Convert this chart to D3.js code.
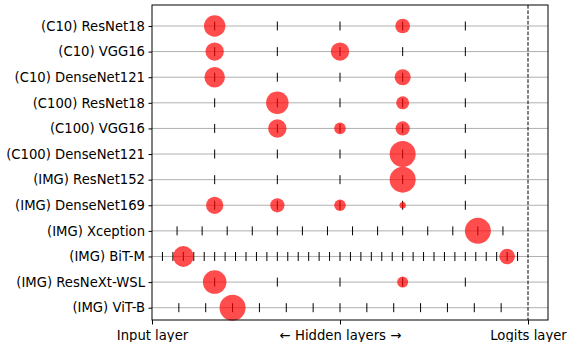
<!DOCTYPE html>
<html>
<head>
<meta charset="utf-8">
<script src="https://cdn.jsdelivr.net/npm/d3@7"></script>
<style>
  body { margin: 0; background: #fff; }
  text { font-family: "DejaVu Sans", sans-serif; }
</style>
</head>
<body>
<div id="vizcont"></div>
<script>
// model names, top to bottom
var models = ["(C10) ResNet18", "(C10) VGG16", "(C10) DenseNet121",
  "(C100) ResNet18", "(C100) VGG16", "(C100) DenseNet121",
  "(IMG) ResNet152", "(IMG) DenseNet169", "(IMG) Xception",
  "(IMG) BiT-M", "(IMG) ResNeXt-WSL", "(IMG) ViT-B"];

// number of hidden layer slots per model (ticks at i/n, i = 1..n-1)
var nSlots = [6, 6, 6, 6, 6, 6, 6, 6, 15, 36, 6, 14];

// selected layer index per model and share of the samples there
var chosenLayer = [[1, 4], [1, 3], [1, 4], [2, 4], [2, 3, 4], [4], [4],
  [1, 2, 3, 4], [13], [3, 34], [1, 4], [3]];
var chosenShare = [[0.68, 0.32], [0.5, 0.5], [0.62, 0.38], [0.75, 0.25],
  [0.5, 0.2, 0.3], [1.0], [1.0], [0.44, 0.3, 0.2, 0.06], [1.0],
  [0.64, 0.36], [0.82, 0.18], [1.0]];

var xTickVals = [0, 0.5, 1];
var xTickLabels = ["Input layer", "\u2190 Hidden layers \u2192", "Logits layer"];

function draw_chart() {
  var margin = {top: 5, right: 20, bottom: 22, left: 152};
  var width = 548 - margin.left;
  var height = 320 - margin.top;

  var svg = d3.select("#vizcont")
    .append("svg")
    .attr("width", 568)
    .attr("height", 342)
    .append("g")
      .attr("transform", "translate(" + margin.left + "," + margin.top + ")");

  // x: 0 = input layer, 1 = logits layer (axis extends a bit past logits)
  var x = d3.scaleLinear().domain([0, 1]).range([0, 376]);
  var y = d3.scalePoint().domain(models).range([21, 302.7]);
  var r = d3.scaleSqrt().domain([0, 1]).range([0, 13]);

  // horizontal grid lines
  svg.selectAll("line.grid")
    .data(models)
    .enter().append("line")
      .attr("class", "grid")
      .attr("x1", 0).attr("x2", width)
      .attr("y1", function(d) { return y(d); })
      .attr("y2", function(d) { return y(d); })
      .style("stroke", "#b0b0b0")
      .style("stroke-width", 1);

  // layer markers
  var rows = svg.selectAll("g.row")
    .data(models)
    .enter().append("g")
      .attr("class", "row")
      .attr("transform", function(d) { return "translate(0," + y(d) + ")"; });

  rows.each(function(d, i) {
    var n = nSlots[i];
    var pos = d3.range(1, n).map(function(k) { return k / n; });
    d3.select(this).selectAll("line.lay")
      .data(pos)
      .enter().append("line")
        .attr("class", "lay")
        .attr("x1", function(p) { return x(p); })
        .attr("x2", function(p) { return x(p); })
        .attr("y1", -4.5).attr("y2", 4.5)
        .style("stroke", "#000")
        .style("stroke-width", 1);

    var pts = chosenLayer[i].map(function(k, j) {
      return {p: k / n, s: chosenShare[i][j]};
    });
    d3.select(this).selectAll("circle")
      .data(pts)
      .enter().append("circle")
        .attr("cx", function(q) { return x(q.p); })
        .attr("cy", 0)
        .attr("r", function(q) { return r(q.s); })
        .style("fill", "red")
        .style("fill-opacity", 0.7);
  });

  // logits line
  svg.append("line")
    .attr("x1", x(1)).attr("x2", x(1))
    .attr("y1", 0).attr("y2", height)
    .style("stroke", "#000")
    .style("stroke-width", 1)
    .style("stroke-dasharray", "3.7,1.6");

  // axes
  var xAxis = d3.axisBottom(x)
    .tickValues(xTickVals)
    .tickFormat(function(d, i) { return xTickLabels[i]; })
    .tickSize(4.5).tickPadding(6);
  var gx = svg.append("g")
    .attr("transform", "translate(0," + height + ")")
    .call(xAxis);
  gx.select(".domain").remove();

  var gy = svg.append("g").call(d3.axisLeft(y).tickSize(3.5).tickPadding(3.5));
  gy.select(".domain").remove();

  svg.selectAll(".tick text").style("font-size", "13.2px").attr("fill", "#000");
  svg.selectAll(".tick line").style("stroke", "#000");

  // frame
  svg.append("rect")
    .attr("x", 0).attr("y", 0)
    .attr("width", width).attr("height", height)
    .style("fill", "none")
    .style("stroke", "#000")
    .style("stroke-width", 1);
}

draw_chart();
</script>
</body>
</html>
